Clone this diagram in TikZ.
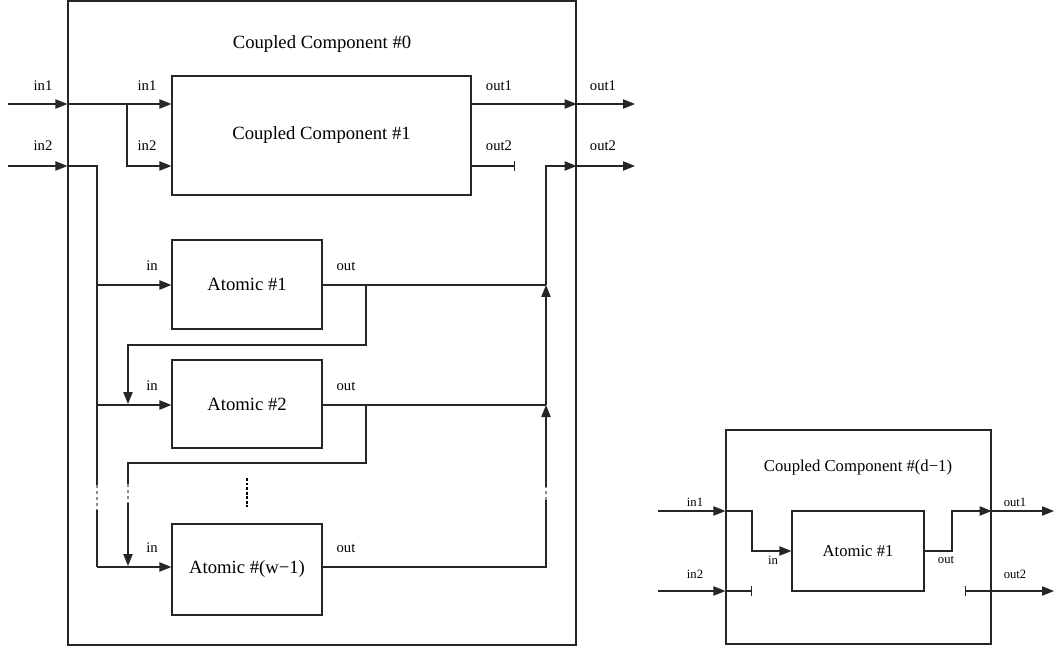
\documentclass[tikz,border=0pt]{standalone}
\usepackage{fontspec}
\setmainfont{Liberation Serif}
\usetikzlibrary{arrows.meta}
\tikzset{
  ln/.style={line width=0.9pt, draw=black!85},
  arr/.style={ln, -{Triangle[length=9pt,width=7pt]}},
  barend/.style={ln, -{Bar[width=7.5pt]}},
  brk/.style={line width=0.9pt, draw=black!45, dash pattern=on 2pt off 2.5pt},
  box/.style={ln, draw, rectangle, inner sep=0pt, fill=none},
  big/.style={font=\fontsize{14}{16}\selectfont},
  small/.style={font=\fontsize{11}{13}\selectfont},
  rbig/.style={font=\fontsize{12.5}{14}\selectfont},
  rsmall/.style={font=\fontsize{9.5}{11}\selectfont},
}
\begin{document}
\begin{tikzpicture}[x=0.75pt, y=-0.75pt]
\useasboundingbox (0,0) rectangle (1056,648);
% ---------- left: coupled component #0 ----------
\node[box, minimum width=381pt, minimum height=483pt] (C0) at (322,323) {};
\node[big] (t0) at (322,44) {Coupled Component \#0};
\node[box, big, minimum width=224.25pt, minimum height=89.25pt] (C1) at (321.5,135.5) {Coupled Component \#1};
\node[box, big, minimum width=112.5pt, minimum height=66.75pt] (A1) at (247,284.5) {Atomic \#1};
\node[box, big, minimum width=112.5pt, minimum height=66pt] (A2) at (247,404) {Atomic \#2};
\node[box, big, minimum width=112.5pt, minimum height=68.25pt] (Aw) at (247,569.5) {Atomic \#(w−1)};

\coordinate (i1s) at (8,104);
\coordinate (i2s) at (8,166);
\coordinate (o1e) at (635,104);
\coordinate (o2e) at (635,166);
\coordinate (bx) at (127,104);
\coordinate (o2bar) at (515,166);
% inputs
\draw[arr] (i1s) -- (i1s -| C0.west);
\draw[arr] (i2s) -- (i2s -| C0.west);
\draw[arr] (i1s -| C0.west) -- (i1s -| C1.west);
\draw[arr] (bx) |- (i2s -| C1.west);
% outputs of C1
\draw[arr] (i1s -| C1.east) -- (i1s -| C0.east);
\draw[arr] (i1s -| C0.east) -- (o1e);
\draw[barend] (i2s -| C1.east) -- (o2bar);
\draw[arr] (i2s -| C0.east) -- (o2e);
% in2 distribution at x=97
\coordinate (v0) at (97,166);
\coordinate (v1) at (97,485);
\coordinate (v2) at (97,510);
\coordinate (v3) at (97,567);
\draw[ln] (i2s -| C0.west) -- (v0) -- (v1);
\draw[brk] (v1) -- (v2);
\draw[ln] (v2) -- (v3);
\draw[arr] (97,285) -- (A1.west |- 0,285);
\draw[arr] (97,405) -- (A2.west |- 0,405);
\draw[arr] (v3) -- (Aw.west |- v3);
% feedback 1 -> 2
\coordinate (f1) at (366,285);
\coordinate (g1) at (128,345);
\coordinate (h1) at (128,404);
\draw[arr] (f1) |- (g1) -- (h1);
% feedback 2 -> w-1
\coordinate (f2) at (366,405);
\coordinate (g2) at (128,463);
\coordinate (g3) at (128,484);
\coordinate (g4) at (128,503);
\coordinate (h2) at (128,566);
\draw[ln] (f2) |- (g2) -- (g3);
\draw[brk] (g3) -- (g4);
\draw[arr] (g4) -- (h2);
% vertical ellipsis
\coordinate (e1) at (247,478);
\coordinate (e2) at (247,507);
\draw[line width=1.3pt, dash pattern=on 2.2pt off 1.2pt] (e1) -- (e2);
% collecting outputs at x=546
\coordinate (r0) at (546,166);
\coordinate (r1) at (546,285);
\coordinate (r2) at (546,405);
\coordinate (r3) at (546,567);
\coordinate (r4) at (546,500);
\coordinate (r5) at (546,487);
\draw[ln] (Aw.east |- r3) -- (r3) -- (r4);
\draw[brk] (r4) -- (r5);
\draw[arr] (r5) -- (r2);
\draw[ln] (A2.east |- r2) -- (r2);
\draw[arr] (r2) -- (r1);
\draw[ln] (A1.east |- r1) -- (r1);
\draw[arr] (r1) |- (r0 -| C0.east);
% labels
\node[small] (l1) at (43,86) {in1};
\node[small] (l2) at (43,146) {in2};
\node[small] (l3) at (147,86) {in1};
\node[small] (l4) at (147,146) {in2};
\node[small] (l5) at (499,86) {out1};
\node[small] (l6) at (499,146) {out2};
\node[small] (l7) at (603,86) {out1};
\node[small] (l8) at (603,146) {out2};
\node[small] (l9) at (152,266) {in};
\node[small] (l10) at (346,266) {out};
\node[small] (l11) at (152,386) {in};
\node[small] (l12) at (346,386) {out};
\node[small] (l13) at (152,548) {in};
\node[small] (l14) at (346,548) {out};
% ---------- right: coupled component #(d-1) ----------
\node[box, minimum width=198.75pt, minimum height=160.5pt] (D) at (858.5,537) {};
\node[rbig] (td) at (858,467) {Coupled Component \#(d−1)};
\node[box, rbig, minimum width=99pt, minimum height=60pt] (RA) at (858,551) {Atomic \#1};
\coordinate (ri1) at (658,511);
\coordinate (ri2) at (658,591);
\coordinate (rk) at (752,551);
\coordinate (rbar) at (752,591);
\coordinate (rm) at (952,511);
\coordinate (ro1) at (1054,511);
\coordinate (rb2) at (965,591);
\coordinate (ro2) at (1054,591);
\draw[arr] (ri1) -- (ri1 -| D.west);
\draw[arr] (ri1 -| D.west) -| (rk) -- (RA.west);
\draw[arr] (ri2) -- (ri2 -| D.west);
\draw[barend] (ri2 -| D.west) -- (rbar);
\draw[arr] (RA.east) -| (rm) -- (rm -| D.east);
\draw[arr] (rm -| D.east) -- (ro1);
\draw[ln, {Bar[width=7.5pt]}-{Triangle[length=9pt,width=7pt]}] (rb2) -- (ro2);
\node[rsmall] (rl1) at (695,502) {in1};
\node[rsmall] (rl2) at (695,574) {in2};
\node[rsmall] (rl3) at (773,560) {in};
\node[rsmall] (rl4) at (946,560) {out};
\node[rsmall] (rl5) at (1015,502) {out1};
\node[rsmall] (rl6) at (1015,574) {out2};
\end{tikzpicture}
\end{document}
